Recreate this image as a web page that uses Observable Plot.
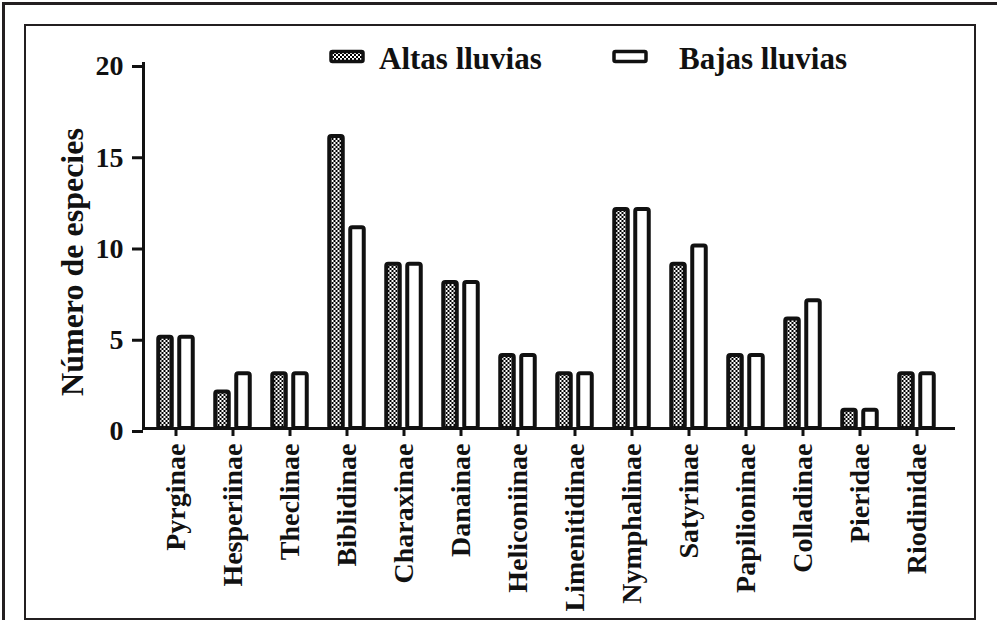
<!DOCTYPE html>
<html><head><meta charset="utf-8">
<script src="https://cdn.jsdelivr.net/npm/d3@7"></script>
<script src="https://cdn.jsdelivr.net/npm/@observablehq/plot@0.6"></script>
<style>
body{margin:0;background:#fff;}
#wrap{position:relative;width:997px;height:620px;overflow:hidden;background:#fff;}
#outer{position:absolute;left:2px;top:2px;width:1100px;height:700px;border-left:3px solid #231f20;border-top:3px solid #231f20;box-sizing:border-box;}
#inner{position:absolute;left:24px;top:24px;width:952px;height:596px;border:2px solid #231f20;box-sizing:border-box;}
#chart{position:absolute;left:0;top:0;}
#legend{position:absolute;left:0;top:0;pointer-events:none;}
</style>
</head><body>
<div id="wrap"><div id="outer"></div><div id="inner"></div><div id="chart"></div><svg id="legend" width="997" height="620"></svg></div>
<script>
const categories = ["Pyrginae","Hesperiinae","Theclinae","Biblidinae","Charaxinae","Danainae","Heliconiinae","Limenitidinae","Nymphalinae","Satyrinae","Papilioninae","Colladinae","Pieridae","Riodinidae"];
const series = ["Altas lluvias","Bajas lluvias"];
const altas = [5,2,3,16,9,8,4,3,12,9,4,6,1,3];
const bajas = [5,3,3,11,9,8,4,3,12,10,4,7,1,3];
const yTicks = [0,5,10,15,20];
const yTitle = "Número de especies";

const rowsA = categories.map((c,i)=>({cat:c, series:series[0], value:altas[i]}));
const rowsB = categories.map((c,i)=>({cat:c, series:series[1], value:bajas[i]}));
const ink = "#111";
const font = "'Liberation Serif','Times New Roman',serif";

const chart = Plot.plot({
  width: 997, height: 620,
  marginLeft: 143, marginRight: 42, marginTop: 63, marginBottom: 192,
  style: {fontFamily: font, fontWeight: "bold", fontSize: "28px", background: "transparent", color: ink, overflow: "visible"},
  x: {domain: categories, range: [143, 948], paddingInner: 0, paddingOuter: 0},
  y: {domain: [0, 20]},
  color: {domain: series, range: ["url(#checker)", "#fff"]},
  marks: [
    Plot.barY(rowsA, {x: "cat", y: "value", fill: "series", stroke: ink, strokeWidth: 4, insetLeft: 21.75, insetRight: 21.75, dx: -10.5, rx: 2}),
    Plot.barY(rowsB, {x: "cat", y: "value", fill: "series", stroke: ink, strokeWidth: 4, insetLeft: 21.75, insetRight: 21.75, dx: 10.5, rx: 2}),
    Plot.ruleY([0], {stroke: ink, strokeWidth: 3}),
    Plot.frame({anchor: "left", stroke: ink, strokeWidth: 3}),
    Plot.axisY({ticks: yTicks, tickFormat: d3.format("d"), tickSize: 11, tickPadding: 9, fontSize: 28, strokeWidth: 3, label: null, dy: 3}),
    Plot.axisX({tickRotate: -90, tickSize: 8, tickPadding: 7, fontSize: 28, strokeWidth: 3, label: null}),
    Plot.text([yTitle], {frameAnchor: "left", textAnchor: "middle", rotate: -90, dx: -71, dy: 16, fontSize: 32, fill: ink})
  ]
});

const svg = d3.select(chart);
const defs = svg.insert("defs", ":first-child");
const pat = defs.append("pattern").attr("id","checker").attr("width",4).attr("height",4).attr("patternUnits","userSpaceOnUse");
pat.append("rect").attr("width",4).attr("height",4).attr("fill","#fff");
pat.append("rect").attr("width",2).attr("height",2).attr("fill","#000");
pat.append("rect").attr("x",2).attr("y",2).attr("width",2).attr("height",2).attr("fill","#000");
document.getElementById("chart").appendChild(chart);

// legend
const leg = d3.select("#legend");
const ldefs = leg.append("defs");
const lp = ldefs.append("pattern").attr("id","checker2").attr("width",4).attr("height",4).attr("patternUnits","userSpaceOnUse");
lp.append("rect").attr("width",4).attr("height",4).attr("fill","#fff");
lp.append("rect").attr("width",2).attr("height",2).attr("fill","#000");
lp.append("rect").attr("x",2).attr("y",2).attr("width",2).attr("height",2).attr("fill","#000");
const items = [
  {name: series[0], fill: "url(#checker2)", sx: 331, tx: 379},
  {name: series[1], fill: "#fff", sx: 614, tx: 679}
];
items.forEach(it => {
  leg.append("rect").attr("x", it.sx).attr("y", 51.5).attr("width", 32).attr("height", 10)
    .attr("fill", it.fill).attr("stroke", ink).attr("stroke-width", 3.5).attr("rx", 1.5);
  leg.append("text").attr("x", it.tx).attr("y", 68.5).text(it.name)
    .attr("font-family", font).attr("font-weight", "bold").attr("font-size", 31).attr("fill", ink);
});
</script>
</body></html>
